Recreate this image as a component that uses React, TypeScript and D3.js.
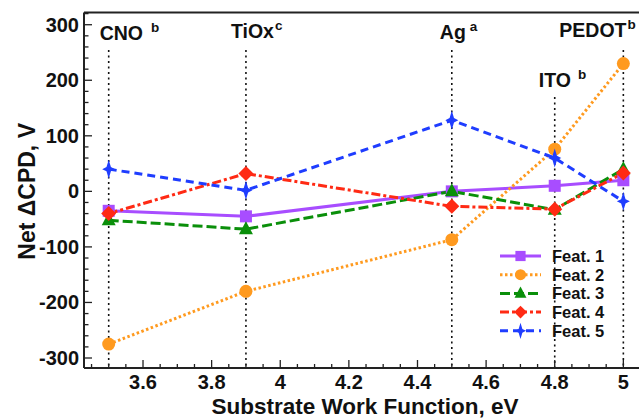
import React from "react";
import { scaleLinear, line, range } from "d3";

// substrate work functions (x values shared by every series)
const WORK_FN = [3.5, 3.9, 4.5, 4.8, 5];

const SERIES_NAMES = ["Feat. 1", "Feat. 2", "Feat. 3", "Feat. 4", "Feat. 5"];
const FEAT1 = [-35, -45, 0, 10, 20];
const FEAT2 = [-275, -180, -87, 76, 230];
const FEAT3 = [-52, -68, 0, -33, 40];
const FEAT4 = [-40, 32, -27, -32, 33];
const FEAT5 = [40, 2, 128, 60, -18];

const SUBSTRATES = ["CNO", "TiOx", "Ag", "ITO", "PEDOT"];
const SUPERS = ["b", "c", "a", "b", "b"];

const X_TICKS = [3.6, 3.8, 4, 4.2, 4.4, 4.6, 4.8, 5];
const Y_TICKS = [-300, -200, -100, 0, 100, 200, 300];

const FONT = "'Liberation Sans', Arial, Helvetica, sans-serif";

const styles = [
  { color: "#a84dff", dash: "none", marker: "square" },
  { color: "#ff9a1f", dash: "2.5,2.5", marker: "circle" },
  { color: "#0a8f0a", dash: "10,4", marker: "triangle" },
  { color: "#ff2a14", dash: "9,3,3,3", marker: "diamond" },
  { color: "#1f3dff", dash: "8,5", marker: "star" },
];

// label placement relative to the dotted guide line (pixels)
const labelLayout = [
  { dx: -9, y: 40, gap: 8, lineTop: 50 },
  { dx: -15, y: 38, gap: 1, lineTop: 50 },
  { dx: -12, y: 39, gap: 4, lineTop: 50 },
  { dx: -16, y: 87, gap: 7, lineTop: 97 },
  { dx: -64, y: 37, gap: 1, lineTop: 50 },
];

function Marker({ type, x, y, color, s = 1 }) {
  if (type === "square")
    return <rect x={x - 6 * s} y={y - 6 * s} width={12 * s} height={12 * s} fill={color} />;
  if (type === "circle") return <circle cx={x} cy={y} r={6.5 * s} fill={color} />;
  if (type === "triangle")
    return (
      <path
        d={`M${x},${y - 8 * s}L${x + 7 * s},${y + 5 * s}L${x - 7 * s},${y + 5 * s}Z`}
        fill={color}
      />
    );
  if (type === "diamond")
    return (
      <path
        d={`M${x},${y - 7.5 * s}L${x + 7.5 * s},${y}L${x},${y + 7.5 * s}L${x - 7.5 * s},${y}Z`}
        fill={color}
      />
    );
  // 4 point star, taller than wide
  const o = 6.5 * s,
    v = 9.5 * s,
    i = 2.2 * s;
  return (
    <path
      d={`M${x},${y - v}L${x + i},${y - i}L${x + o},${y}L${x + i},${y + i}L${x},${y + v}L${x - i},${y + i}L${x - o},${y}L${x - i},${y - i}Z`}
      fill={color}
    />
  );
}

export default function App() {
  const width = 639;
  const height = 420;
  const x = scaleLinear().domain([3.428, 5.05]).range([84, 640.5]);
  const y = scaleLinear().domain([-318, 322]).range([368, 12.5]);
  const [left, right] = x.range();
  const [bottom, top] = y.range();

  const series = [FEAT1, FEAT2, FEAT3, FEAT4, FEAT5];
  const lineGen = line<number>()
    .x((_, i) => x(WORK_FN[i]))
    .y((d) => y(d));

  const xMinor = range(3.45, 5.051, 0.05).map((v) => Math.round(v * 100) / 100);
  const yMinor = range(-300, 321, 20);

  return (
    <svg
      width={width}
      height={height}
      style={{ position: "absolute", left: 0, top: 0, background: "#fff" }}
      fontFamily={FONT}
      fontWeight="bold"
    >
      {/* dotted guide lines + substrate labels */}
      {SUBSTRATES.map((name, i) => {
        const lx = x(WORK_FN[i]);
        const lay = labelLayout[i];
        return (
          <g key={name}>
            <line
              x1={lx}
              x2={lx}
              y1={lay.lineTop}
              y2={bottom}
              stroke="#111"
              strokeWidth={1.6}
              strokeDasharray="2,3.5"
            />
            <text x={lx + lay.dx} y={lay.y} fontSize={19.5} fill="#111">
              {name}
              <tspan dx={lay.gap} dy={-8} fontSize={13.5}>
                {SUPERS[i]}
              </tspan>
            </text>
          </g>
        );
      })}

      {/* series lines */}
      {series.map((vals, k) => (
        <path
          key={"l" + k}
          d={lineGen(vals) || ""}
          fill="none"
          stroke={styles[k].color}
          strokeWidth={3}
          strokeDasharray={styles[k].dash}
        />
      ))}
      {series.map((vals, k) =>
        vals.map((v, i) => (
          <Marker
            key={`m${k}-${i}`}
            type={styles[k].marker}
            x={x(WORK_FN[i])}
            y={y(v)}
            color={styles[k].color}
          />
        ))
      )}

      {/* frame */}
      <line x1={left} x2={left} y1={top} y2={bottom} stroke="#222" strokeWidth={2} />
      <line x1={left} x2={right} y1={bottom} y2={bottom} stroke="#222" strokeWidth={2} />
      <line x1={left} x2={right} y1={top} y2={top} stroke="#222" strokeWidth={1.8} />

      {/* y ticks */}
      {yMinor.map((v) => (
        <line
          key={"ym" + v}
          x1={left}
          x2={left + (v % 100 === 0 ? 8 : 4.5)}
          y1={y(v)}
          y2={y(v)}
          stroke="#222"
          strokeWidth={1.3}
        />
      ))}
      {Y_TICKS.map((v) => (
        <text key={"yt" + v} x={left - 5} y={y(v) + 7} textAnchor="end" fontSize={20} fill="#111">
          {v}
        </text>
      ))}

      {/* x ticks */}
      {xMinor.map((v) => {
        const major = X_TICKS.some((t) => Math.abs(t - v) < 1e-6);
        return (
          <line
            key={"xm" + v}
            x1={x(v)}
            x2={x(v)}
            y1={bottom}
            y2={bottom - (major ? 8 : 4)}
            stroke="#222"
            strokeWidth={1.3}
          />
        );
      })}
      {X_TICKS.map((v) => (
        <text key={"xt" + v} x={x(v)} y={bottom + 21} textAnchor="middle" fontSize={20} fill="#111">
          {v}
        </text>
      ))}

      {/* axis titles */}
      <text x={365} y={414} textAnchor="middle" fontSize={22.5} fill="#111">
        Substrate Work Function, eV
      </text>
      <text
        transform={`translate(35,${y(0)}) rotate(-90)`}
        textAnchor="middle"
        fontSize={23}
        fill="#111"
      >
        Net ΔCPD, V
      </text>

      {/* legend */}
      {SERIES_NAMES.map((name, k) => {
        const ly = 256 + k * 18.7;
        return (
          <g key={name}>
            <line
              x1={500}
              x2={541}
              y1={ly}
              y2={ly}
              stroke={styles[k].color}
              strokeWidth={3}
              strokeDasharray={styles[k].dash}
            />
            <Marker type={styles[k].marker} x={520.5} y={ly} color={styles[k].color} s={0.85} />
            <text x={552} y={ly + 6} fontSize={16.5} fill="#111">
              {name}
            </text>
          </g>
        );
      })}
    </svg>
  );
}
